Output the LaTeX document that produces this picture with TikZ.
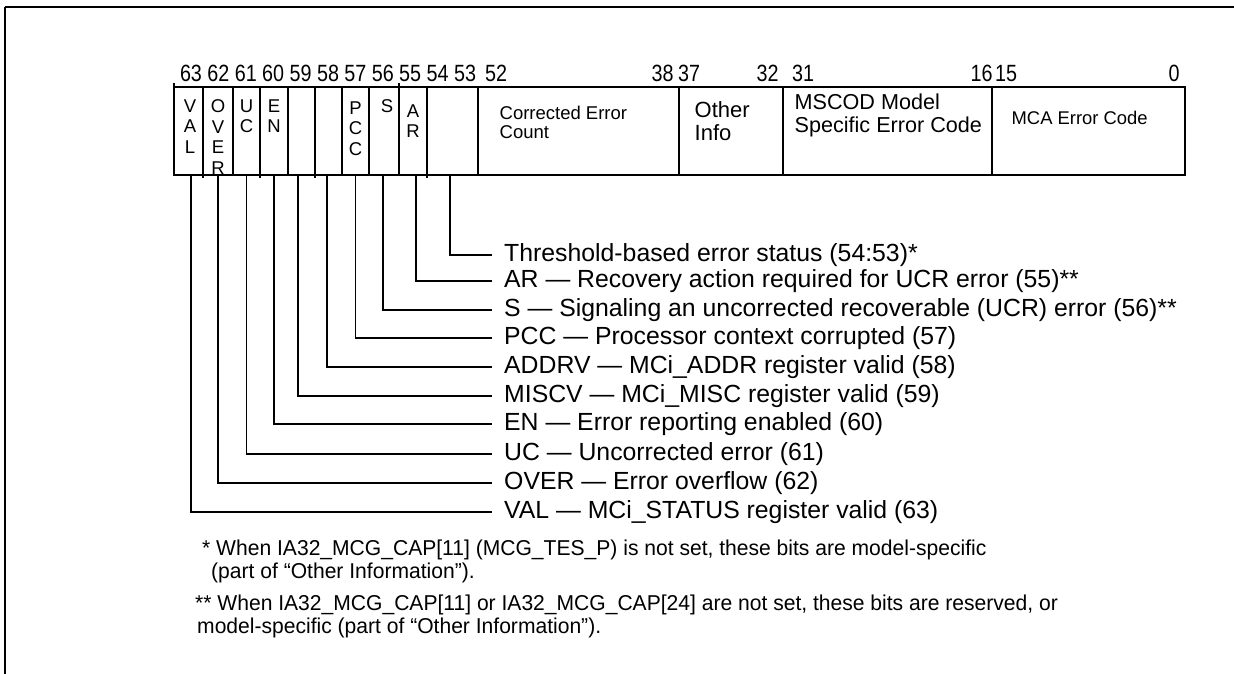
\documentclass[tikz,border=0pt]{standalone}
\usepackage{fontspec}
\setmainfont{Liberation Sans}
\newfontfamily\numfont[FakeStretch=0.84]{Liberation Sans}
\newfontfamily\notefont[FakeStretch=0.98]{Liberation Sans}
\usetikzlibrary{positioning}
\tikzset{
  cell/.style={draw, line width=1.1pt, minimum height=88pt, inner sep=0pt},
  bitnum/.style={anchor=base, inner sep=0pt, font=\numfont\fontsize{23.5}{23.5}\selectfont},
  bitlbl/.style={align=center, inner sep=0pt, font=\fontsize{18.5}{20.5}\selectfont},
  fldlbl/.style={align=left, inner sep=0pt},
  desc/.style={anchor=west, inner xsep=12pt, inner ysep=0pt, text height=17pt, text depth=5pt, font=\fontsize{24.8}{28}\selectfont},
  note/.style={anchor=north west, align=left, inner sep=0pt, font=\notefont\fontsize{21.5}{23}\selectfont},
  wire/.style={line width=1.1pt}
}
\begin{document}
\begin{tikzpicture}[x=1pt, y=-1pt]
\useasboundingbox (0,0) rectangle (1234,674);
% page frame
\draw[line width=2.2pt] (1234,7) -- (5,7);
\draw[line width=1.2pt] (5,7) -- (5,674);
% register fields
\node[cell, minimum width=29pt] (val) at (188.5,131) {};
\node[cell, minimum width=30pt] (over) at (218,131) {};
\node[cell, minimum width=27pt] (uc) at (246.5,131) {};
\node[cell, minimum width=28pt] (en) at (274,131) {};
\node[cell, minimum width=27pt] (miscv) at (301.5,131) {};
\node[cell, minimum width=27pt] (addrv) at (328.5,131) {};
\node[cell, minimum width=27pt] (pcc) at (355.5,131) {};
\node[cell, minimum width=30pt] (s) at (384,131) {};
\node[cell, minimum width=28pt] (ar) at (413,131) {};
\node[cell, minimum width=51pt] (thr) at (452.5,131) {};
\node[cell, minimum width=201pt] (cec) at (578.5,131) {};
\node[cell, minimum width=104pt] (oth) at (731,131) {};
\node[cell, minimum width=209pt] (mscod) at (887.5,131) {};
\node[cell, minimum width=193pt] (mca) at (1088.5,131) {};
% small stubs at the field edges
\foreach \x in {174,399} \draw[wire] (\x,87) -- ++(0,-4);
\foreach \x in {203,260,315,427} \draw[wire] (\x,175) -- ++(0,3);
% field texts
\node[bitlbl, below=13pt of val.north, xshift=1.5pt] (tval) {V\\A\\L};
\node[bitlbl, below=13pt of over.north] (tover) {O\\V\\E\\R};
\node[bitlbl, below=13pt of uc.north] (tuc) {U\\C};
\node[bitlbl, below=13pt of en.north] (ten) {E\\N};
\node[bitlbl, below=15pt of pcc.north] (tpcc) {P\\C\\C};
\node[bitlbl, below=13pt of s.north, xshift=3pt] (ts) {S};
\node[bitlbl, below=18pt of ar.north] (tar) {A\\R};
\node[fldlbl, below right=19.5pt and 22pt of cec.north west, font=\fontsize{18.5}{19}\selectfont] (tcec) {Corrected Error\\Count};
\node[fldlbl, below right=15pt and 16pt of oth.north west, font=\fontsize{22}{23}\selectfont] (toth) {Other\\Info};
\node[fldlbl, below right=7pt and 12pt of mscod.north west, font=\fontsize{21.6}{23}\selectfont] (tmscod) {MSCOD Model\\Specific Error Code};
\node[fldlbl, below right=24.5pt and 20pt of mca.north west, font=\fontsize{18.4}{19}\selectfont] (tmca) {MCA Error Code};
% bit numbers
\foreach \n [count=\k from 0] in {63,62,61,60,59,58,57,56,55,54,53}
  \node[bitnum] (n\n) at (191+27.4*\k,82) {\n};
\node[bitnum] (n52) at (496,82) {52};
\node[bitnum] (n38) at (662.5,82) {38};
\node[bitnum] (n37) at (689,82) {37};
\node[bitnum] (n32) at (767.5,82) {32};
\node[bitnum] (n31) at (803,82) {31};
\node[bitnum] (n16) at (981.5,82) {16};
\node[bitnum] (n15) at (1006,82) {15};
\node[bitnum] (n0) at (1174,82) {0};
% flag descriptions
\node[desc] (dthr) at (492,255) {Threshold-based error status (54:53)*};
\node[desc] (dar) at (492,281) {AR — Recovery action required for UCR error (55)**};
\node[desc] (ds) at (492,310) {S — Signaling an uncorrected recoverable (UCR) error (56)**};
\node[desc] (dpcc) at (492,338) {PCC — Processor context corrupted (57)};
\node[desc] (daddrv) at (492,367) {ADDRV — MCi\_ADDR register valid (58)};
\node[desc] (dmiscv) at (492,396) {MISCV — MCi\_MISC register valid (59)};
\node[desc] (den) at (492,424) {EN — Error reporting enabled (60)};
\node[desc] (duc) at (492,454) {UC — Uncorrected error (61)};
\node[desc] (dover) at (492,483) {OVER — Error overflow (62)};
\node[desc] (dval) at (492,512) {VAL — MCi\_STATUS register valid (63)};
\draw[wire] ([xshift=-2.5pt]thr.south) |- (dthr.west);
\draw[wire] ([xshift=3pt]ar.south) |- (dar.west);
\draw[wire] ([xshift=-1pt]s.south) |- (ds.west);
\draw[wire] (pcc.south) |- (dpcc.west);
\draw[wire] ([xshift=-1.5pt]addrv.south) |- (daddrv.west);
\draw[wire] ([xshift=-3.5pt]miscv.south) |- (dmiscv.west);
\draw[wire] (en.south) |- (den.west);
\draw[wire] (uc.south) |- (duc.west);
\draw[wire] (over.south) |- (dover.west);
\draw[wire] ([xshift=2.5pt]val.south) |- (dval.west);
% footnotes
\node[note] (fn1) at (202,539.5) {* When IA32\_MCG\_CAP[11] (MCG\_TES\_P) is not set, these bits are model-specific\\\hspace*{9pt}(part of “Other Information”).};
\node[note] (fn2) at (195,594.5) {** When IA32\_MCG\_CAP[11] or IA32\_MCG\_CAP[24] are not set, these bits are reserved, or\\\hspace*{2pt}model-specific (part of “Other Information”).};
\end{tikzpicture}
\end{document}
